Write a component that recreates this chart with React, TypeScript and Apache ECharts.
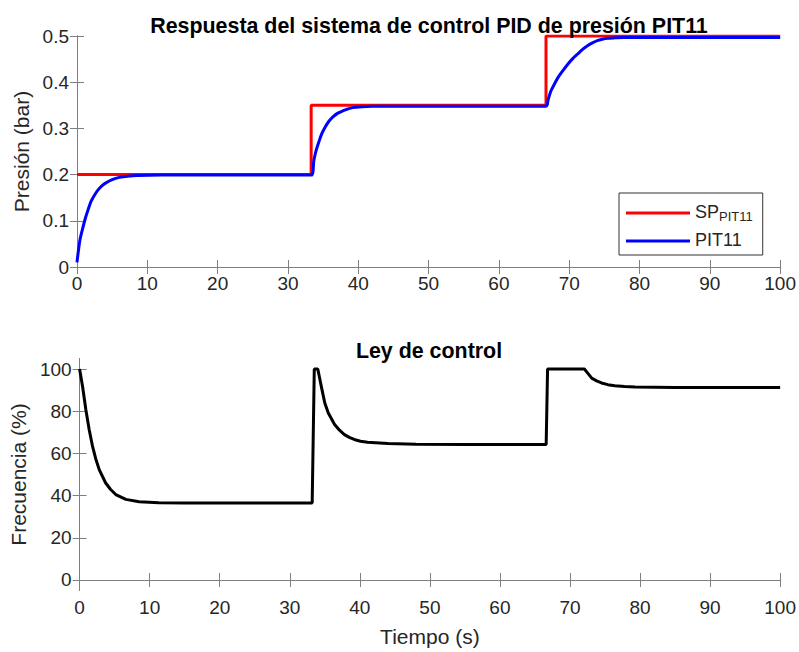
import React, { useEffect, useRef } from "react";
import * as echarts from "echarts";

// ---- data ----
const xTicks = [0, 10, 20, 30, 40, 50, 60, 70, 80, 90, 100];
const pressureTicks = [0, 0.1, 0.2, 0.3, 0.4, 0.5];
const freqTicks = [0, 20, 40, 60, 80, 100];

const spTime = [0, 33.3, 33.3, 66.7, 66.7, 100];
const spValue = [0.2, 0.2, 0.35, 0.35, 0.5, 0.5];

const pitTime = [
  0, 0.4, 0.8, 1.2, 1.6, 2.0, 2.5, 3.0, 3.5, 4.0, 5.0, 6.0, 7.0, 8.5, 12, 20, 33.3,
  33.7, 34.0, 34.4, 34.8, 35.3, 35.8, 36.4, 37.1, 37.8, 38.5, 39.2, 40.5, 42, 50, 66.7,
  67.0, 67.4, 67.9, 68.4, 69.1, 69.8, 70.5, 71.2, 71.9, 72.6, 73.3, 74.0, 74.7, 75.5, 76.5, 77.8, 85, 100,
];
const pitValue = [
  0.01, 0.057, 0.083, 0.106, 0.125, 0.142, 0.156, 0.167, 0.175, 0.181, 0.189, 0.194, 0.196, 0.198, 0.199, 0.199, 0.199,
  0.232, 0.252, 0.271, 0.288, 0.303, 0.315, 0.325, 0.333, 0.338, 0.342, 0.345, 0.347, 0.348, 0.348, 0.348,
  0.362, 0.381, 0.396, 0.41, 0.425, 0.439, 0.451, 0.461, 0.471, 0.479, 0.485, 0.49, 0.493, 0.495, 0.496, 0.497, 0.497, 0.497,
];

const uTime = [
  0, 0.43, 0.9, 1.37, 1.85, 2.3, 2.8, 3.7, 4.4, 5.16, 6.6, 8.5, 11.3, 15, 33.2,
  33.5, 34.0, 34.5, 35.0, 35.5, 36.4, 37.1, 37.8, 38.5, 39.2, 40.1, 41.1, 44, 48, 55, 66.6,
  66.8, 72.05, 72.5, 73.1, 73.8, 74.5, 75.4, 76.4, 77.8, 79.3, 85, 100,
];
const uValue = [
  100, 91.6, 80.6, 71.2, 63.3, 57.5, 52.3, 46.1, 43.0, 40.5, 38.2, 37.1, 36.6, 36.5, 36.5,
  100, 100, 91.8, 83.9, 79.2, 73.7, 71.0, 68.9, 67.6, 66.6, 65.8, 65.3, 64.7, 64.3, 64.2, 64.2,
  100, 100, 98.2, 95.7, 94.4, 93.4, 92.6, 92.1, 91.7, 91.5, 91.3, 91.2,
];

const FONT = '"Liberation Sans", Arial, Helvetica, sans-serif';
const AXIS_COLOR = "#7f7f7f";
const TEXT_COLOR = "#262626";

const zip = (t: number[], v: number[]) => t.map((x, i) => [x, v[i]]);

function xAxisPair(gridIndex: number, withName: boolean) {
  const base = {
    type: "value",
    gridIndex,
    min: 0,
    max: 100,
    interval: 10,
    splitLine: { show: false },
    axisLine: { show: true, lineStyle: { color: AXIS_COLOR, width: 1 } },
    axisTick: { show: true, inside: true, length: 7, lineStyle: { color: AXIS_COLOR } },
  };
  return [
    {
      ...base,
      position: "bottom",
      axisLabel: { show: true, margin: 7, fontSize: 19, color: TEXT_COLOR, fontFamily: FONT, customValues: xTicks },
      ...(withName
        ? {
            name: "Tiempo (s)",
            nameLocation: "middle",
            nameGap: 35,
            nameTextStyle: { fontSize: 21, color: TEXT_COLOR, fontFamily: FONT },
          }
        : {}),
    },
    { ...base, position: "top", axisLabel: { show: false } },
  ];
}

function yAxisPair(
  gridIndex: number,
  min: number,
  max: number,
  ticks: number[],
  name: string,
  nameGap: number
) {
  const base = {
    type: "value",
    gridIndex,
    min,
    max,
    splitLine: { show: false },
    axisLine: { show: true, lineStyle: { color: AXIS_COLOR, width: 1 } },
    axisTick: { show: true, inside: true, length: 7, lineStyle: { color: AXIS_COLOR }, customValues: ticks },
  };
  return [
    {
      ...base,
      position: "left",
      axisLabel: {
        show: true,
        margin: 8,
        fontSize: 19,
        color: TEXT_COLOR,
        fontFamily: FONT,
        customValues: ticks,
        formatter: (v: number) => String(Math.round(v * 1000) / 1000),
      },
      name,
      nameLocation: "middle",
      nameGap,
      nameTextStyle: { fontSize: 21, color: TEXT_COLOR, fontFamily: FONT },
    },
    { ...base, position: "right", axisLabel: { show: false } },
  ];
}

export default function App() {
  const ref = useRef<HTMLDivElement>(null);

  useEffect(() => {
    if (!ref.current) return;
    const chart = echarts.init(ref.current, null, { renderer: "svg" });
    const option = {
      animation: false,
      backgroundColor: "#ffffff",
      title: [
        {
          text: "Respuesta del sistema de control PID de presión PIT11",
          left: 424,
          top: 10.5,
          textAlign: "center",
          textStyle: { fontSize: 21.4, fontWeight: "bold", color: "#000000", fontFamily: FONT },
        },
        {
          text: "Ley de control",
          left: 424,
          top: 335,
          textAlign: "center",
          textStyle: { fontSize: 21.4, fontWeight: "bold", color: "#000000", fontFamily: FONT },
        },
      ],
      grid: [
        { left: 77, right: 18, top: 36, height: 231, containLabel: false },
        { left: 77, right: 18, top: 358.5, height: 232, containLabel: false },
      ],
      xAxis: [...xAxisPair(0, false), ...xAxisPair(1, true)],
      yAxis: [
        ...yAxisPair(0, 0, 0.5, pressureTicks, "Presión (bar)", 42),
        ...yAxisPair(1, -5, 105, freqTicks, "Frecuencia (%)", 44),
      ],
      legend: {
        show: true,
        orient: "vertical",
        left: 619,
        top: 193,
        padding: [5, 10, 6, 7],
        itemGap: 8,
        itemWidth: 64,
        itemHeight: 3,
        icon: "rect",
        backgroundColor: "#ffffff",
        borderColor: "#333333",
        borderWidth: 1,
        borderRadius: 0,
        data: ["SP", "PIT11"],
        formatter: (name: string) => (name === "SP" ? "{m|SP}{s|PIT11}" : "{m|PIT11}"),
        textStyle: {
          fontFamily: FONT,
          color: TEXT_COLOR,
          rich: {
            m: { fontSize: 18, lineHeight: 20, verticalAlign: "top", color: TEXT_COLOR, fontFamily: FONT },
            s: { fontSize: 13, lineHeight: 14, verticalAlign: "bottom", padding: [12, 0, 0, 0], color: TEXT_COLOR, fontFamily: FONT },
          },
        },
      },
      series: [
        {
          name: "SP",
          type: "line",
          xAxisIndex: 0,
          yAxisIndex: 0,
          data: zip(spTime, spValue),
          showSymbol: false,
          symbol: "none",
          lineStyle: { color: "#ff0000", width: 3 },
          itemStyle: { color: "#ff0000" },
        },
        {
          name: "PIT11",
          type: "line",
          xAxisIndex: 0,
          yAxisIndex: 0,
          data: zip(pitTime, pitValue),
          showSymbol: false,
          symbol: "none",
          smooth: 0.3,
          lineStyle: { color: "#0000ff", width: 3 },
          itemStyle: { color: "#0000ff" },
        },
        {
          name: "Ley",
          type: "line",
          xAxisIndex: 2,
          yAxisIndex: 2,
          data: zip(uTime, uValue),
          showSymbol: false,
          symbol: "none",
          lineStyle: { color: "#000000", width: 3 },
          itemStyle: { color: "#000000" },
        },
      ],
    };
    chart.setOption(option as any);
    return () => chart.dispose();
  }, []);

  return (
    <div
      ref={ref}
      style={{ position: "absolute", left: 0, top: 0, width: 799, height: 652, background: "#fff" }}
    />
  );
}
